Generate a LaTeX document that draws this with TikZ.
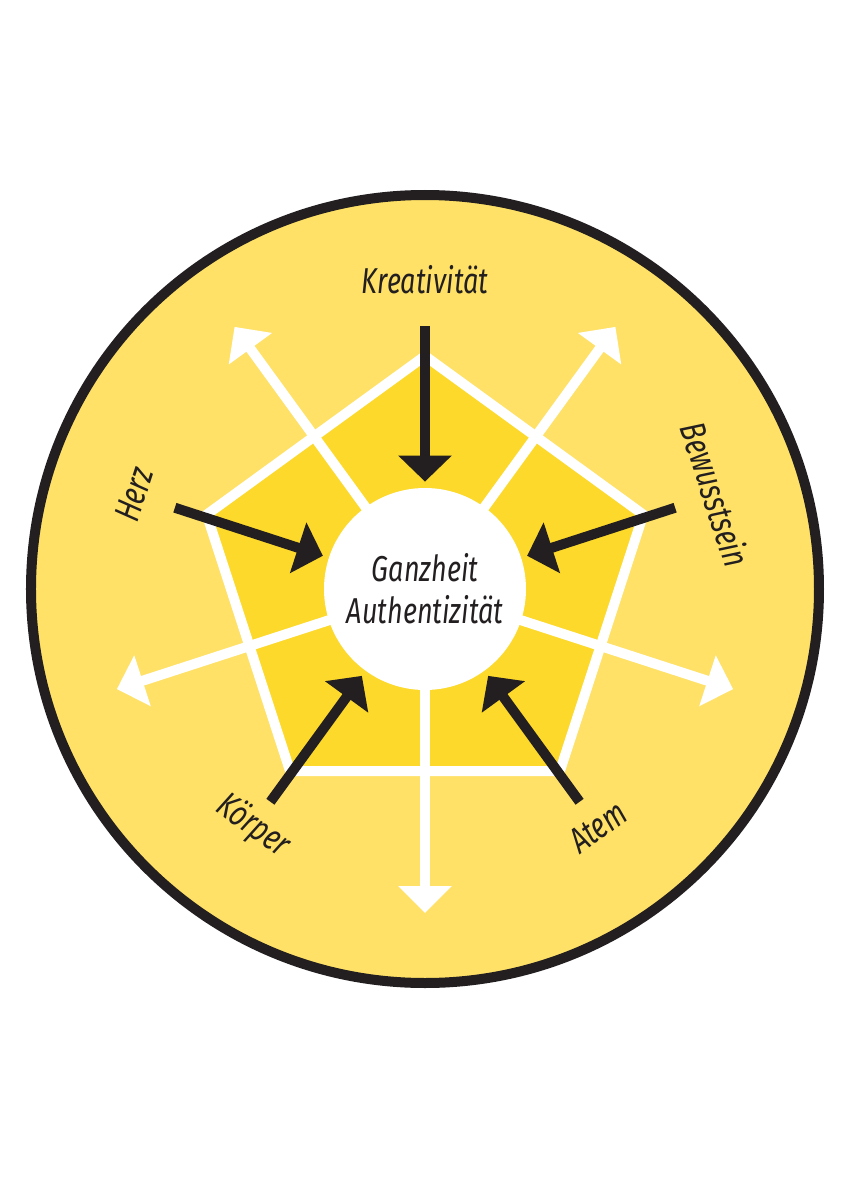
\documentclass[tikz,border=0pt]{standalone}
\usepackage{fontspec}
\newfontfamily\labelfont{Fira Sans Italic}[FakeStretch=0.75]
\usetikzlibrary{arrows.meta}
\definecolor{paleyellow}{HTML}{FEE166}
\definecolor{deepyellow}{HTML}{FCD92A}
\definecolor{inkblack}{HTML}{231F20}

\begin{document}
\begin{tikzpicture}[x=0.5pt,y=0.5pt,
  outarrow/.style={white,line width=5pt,-{Triangle[width=26pt,length=13.5pt]}},
  inarrow/.style={inkblack,line width=5pt,shorten >=3pt,-{Triangle[width=26pt,length=13pt]}},
  lbl/.style={inner sep=0pt,text=inkblack,font=\labelfont\fontsize{18}{21}\selectfont},
  core/.style={lbl,circle,fill=white,minimum size=101pt,align=center}]
\fill [white] (-425,-611) rectangle (422,589);
\useasboundingbox (-425,-611) rectangle (422,589);
\coordinate (mid) at (0,0);
\draw [inkblack,line width=5pt,fill=paleyellow] (mid) circle (394);
\draw [white,line width=5pt,fill=deepyellow,shift={(0,3.5)}] (90:229.5) -- (162:229.5) -- (234:229.5) -- (306:229.5) -- (18:229.5) -- cycle;
\coordinate (o1) at (54:324);
\coordinate (o2) at (126:324);
\coordinate (o3) at (198:324);
\coordinate (o4) at (270:324);
\coordinate (o5) at (342:324);
\draw [outarrow] (mid) -- (o1);
\draw [outarrow] (mid) -- (o2);
\draw [outarrow] (mid) -- (o3);
\draw [outarrow] (mid) -- (o4);
\draw [outarrow] (mid) -- (o5);
\node [core] (core) at (mid) {Ganzheit\\Authentizität};
\coordinate (i1) at (90:263);
\coordinate (i2) at (18:263);
\coordinate (i3) at (162:263);
\coordinate (i4) at (234:263);
\coordinate (i5) at (306:263);
\draw [inarrow] (i1) -- (core);
\draw [inarrow] (i2) -- (core);
\draw [inarrow] (i3) -- (core);
\draw [inarrow] (i4) -- (core);
\draw [inarrow] (i5) -- (core);
\node [lbl] (krea) at (90:309) {Kreativität};
\node [lbl,rotate=-72] (bewu) at (18:306) {Bewusstsein};
\node [lbl,rotate=72] (herz) at (162:306) {Herz};
\node [lbl,rotate=-36] (koer) at (234:293) {Körper};
\node [lbl,rotate=36] (atem) at (306:294) {Atem};
\end{tikzpicture}
\end{document}
